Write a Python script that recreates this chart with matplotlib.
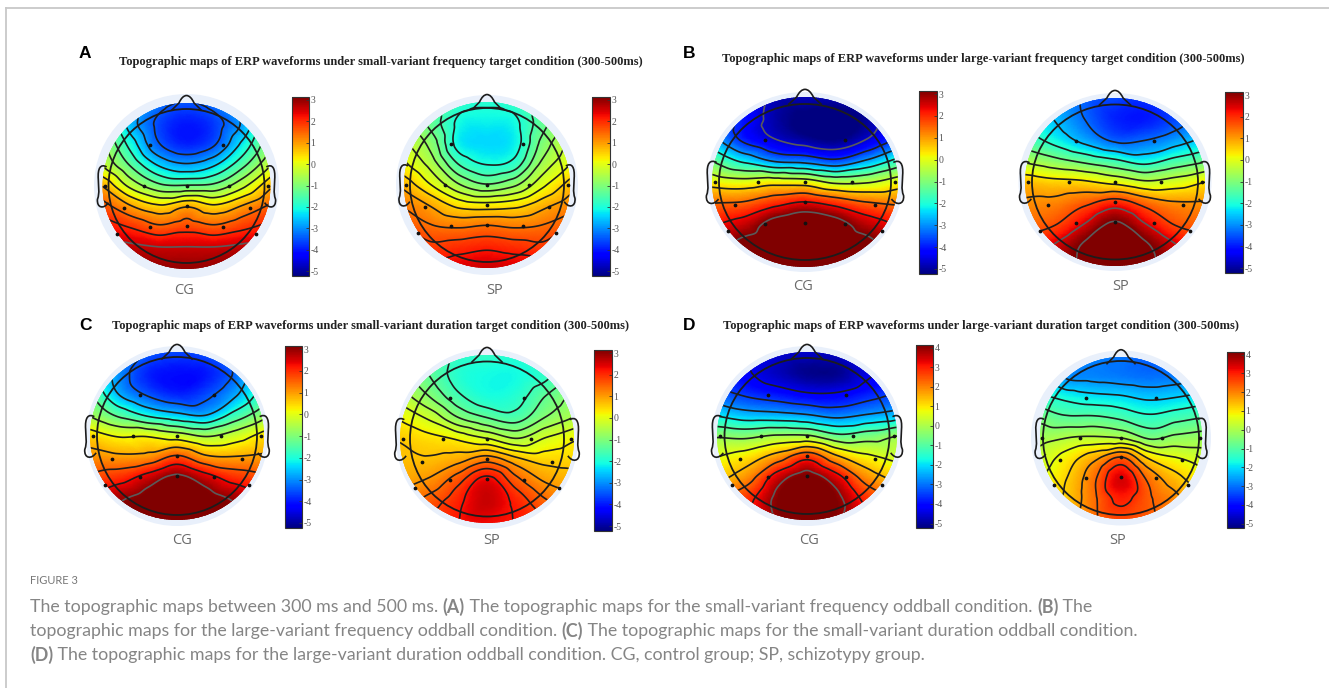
import matplotlib
matplotlib.use("Agg")
import matplotlib.pyplot as plt
import matplotlib.tri as mtri
import numpy as np
from matplotlib.cm import ScalarMappable
from matplotlib.colors import Normalize
from matplotlib.lines import Line2D
from matplotlib.patches import Ellipse, PathPatch
from matplotlib.path import Path

W, H = 1329, 688

# scalp potential, rows go top (front) to bottom (back)
grid_x = [-1, -0.67, -0.33, 0, 0.33, 0.67, 1]
grid_y = [1, 0.75, 0.5, 0.25, 0, -0.25, -0.5, -0.75, -1]

a_cg = [[-1.5, -2.4, -3.2, -3.5, -3.2, -2.4, -1.5],
        [-1.0, -2.6, -3.6, -4.0, -3.7, -2.8, -1.2],
        [-0.6, -2.0, -3.4, -3.9, -3.5, -2.2, -0.8],
        [-0.2, -1.3, -2.4, -2.8, -2.4, -1.4, -0.2],
        [0.9, -0.3, -1.1, -1.2, -1.1, -0.3, 0.8],
        [1.7, 1.0, 0.5, 0.9, 0.5, 1.0, 1.6],
        [2.3, 2.0, 1.6, 1.8, 1.6, 1.9, 2.2],
        [2.8, 2.7, 2.6, 2.6, 2.6, 2.7, 2.8],
        [3.1, 3.1, 3.0, 3.0, 3.0, 3.1, 3.1]]
a_sp = [[-0.9, -1.4, -1.8, -1.9, -1.8, -1.4, -0.9],
        [-0.6, -1.3, -2.1, -2.2, -2.1, -1.3, -0.6],
        [-0.2, -0.9, -2.2, -2.4, -2.2, -1.0, -0.2],
        [0.2, -0.5, -1.6, -2.0, -1.8, -0.6, 0.1],
        [0.8, 0.1, -0.7, -1.1, -0.8, 0.0, 0.7],
        [1.3, 0.9, 0.4, 0.3, 0.4, 0.8, 1.2],
        [1.7, 1.4, 1.3, 1.4, 1.3, 1.4, 1.6],
        [2.2, 1.9, 2.0, 2.1, 2.0, 1.9, 2.2],
        [2.6, 2.5, 2.5, 2.6, 2.5, 2.5, 2.6]]
b_cg = [[-3.5, -4.2, -4.8, -4.8, -4.8, -4.5, -4.0],
        [-3.0, -4.0, -4.9, -5.3, -5.5, -5.0, -4.0],
        [-2.6, -3.9, -4.6, -5.0, -5.2, -4.6, -3.6],
        [-1.2, -2.2, -3.0, -3.2, -3.6, -2.8, -1.8],
        [0.2, 0.0, 0.2, 0.1, -0.5, -0.4, 0.1],
        [1.4, 1.5, 2.0, 2.4, 2.0, 1.5, 1.3],
        [2.2, 2.6, 3.5, 3.9, 3.5, 2.7, 2.2],
        [2.7, 3.4, 3.7, 4.0, 3.7, 3.4, 2.7],
        [2.9, 3.4, 3.7, 3.9, 3.7, 3.4, 2.9]]
b_sp = [[-2.2, -2.9, -3.4, -3.6, -3.8, -3.7, -3.2],
        [-1.9, -2.6, -3.3, -3.9, -4.0, -3.6, -3.0],
        [-1.5, -2.1, -2.8, -3.4, -3.3, -2.9, -2.4],
        [-0.5, -0.9, -1.3, -1.7, -2.1, -1.6, -1.2],
        [0.7, 0.5, 0.4, 0.1, -0.3, -0.1, 0.3],
        [1.1, 1.2, 1.6, 2.1, 1.5, 1.1, 1.1],
        [1.4, 1.7, 2.5, 3.3, 2.5, 1.7, 1.5],
        [2.0, 2.5, 3.3, 3.9, 3.3, 2.5, 2.0],
        [2.4, 2.8, 3.4, 3.6, 3.4, 2.8, 2.4]]
c_cg = [[-2.0, -2.8, -3.4, -3.6, -3.5, -3.0, -2.2],
        [-1.6, -3.0, -3.9, -4.1, -4.0, -3.3, -1.9],
        [-1.2, -2.7, -3.5, -3.9, -3.6, -2.8, -1.6],
        [-0.6, -1.4, -2.1, -2.5, -2.7, -1.7, -0.8],
        [0.5, 0.1, 0.1, -0.2, -0.6, -0.2, 0.4],
        [1.1, 1.0, 1.1, 1.7, 1.0, 0.9, 1.0],
        [1.7, 2.0, 2.6, 3.2, 2.6, 2.0, 1.7],
        [2.4, 2.9, 3.3, 3.7, 3.3, 2.9, 2.4],
        [2.7, 3.1, 3.4, 3.5, 3.4, 3.1, 2.7]]
c_sp = [[-1.0, -1.5, -1.8, -1.8, -1.9, -1.7, -1.2],
        [-0.7, -1.3, -1.9, -2.1, -2.1, -1.8, -1.2],
        [-0.3, -0.9, -1.6, -2.0, -1.9, -1.3, -0.8],
        [0.2, -0.2, -0.9, -1.3, -1.5, -0.9, -0.5],
        [0.6, 0.4, 0.2, -0.1, -0.5, -0.1, 0.2],
        [0.7, 0.7, 0.9, 1.3, 0.8, 0.5, 0.5],
        [0.9, 1.1, 1.7, 2.4, 1.6, 1.0, 0.8],
        [1.2, 1.6, 2.1, 2.6, 2.1, 1.5, 1.2],
        [1.6, 1.9, 2.2, 2.3, 2.2, 1.9, 1.6]]
d_cg = [[-3.8, -4.2, -4.5, -4.6, -4.6, -4.3, -4.0],
        [-3.7, -4.2, -4.7, -5.1, -5.1, -4.4, -4.0],
        [-3.2, -3.6, -3.9, -4.2, -4.2, -3.8, -3.4],
        [-1.9, -2.3, -2.4, -2.6, -2.9, -2.6, -2.3],
        [-0.3, -0.4, -0.1, -0.1, -0.8, -0.6, -0.2],
        [0.6, 1.0, 1.8, 2.8, 1.6, 0.8, 0.4],
        [1.2, 1.9, 3.5, 4.3, 3.4, 1.9, 1.2],
        [2.2, 2.8, 4.1, 4.7, 4.1, 2.8, 2.2],
        [2.8, 3.2, 4.0, 4.3, 4.0, 3.2, 2.8]]
d_sp = [[-2.4, -2.7, -2.9, -3.0, -3.2, -3.2, -3.0],
        [-2.1, -2.7, -2.8, -2.9, -3.0, -2.9, -2.7],
        [-1.4, -1.7, -1.9, -2.0, -2.2, -2.1, -1.9],
        [-0.6, -0.9, -0.9, -1.1, -1.4, -1.2, -1.0],
        [-0.1, 0.1, 0.2, 0.1, -0.5, -0.3, -0.2],
        [0.3, 0.9, 1.6, 2.4, 1.2, 0.7, 0.4],
        [0.6, 1.2, 2.2, 3.4, 2.2, 1.4, 0.8],
        [0.9, 1.3, 2.2, 3.0, 2.4, 1.9, 1.2],
        [1.2, 1.6, 2.2, 2.6, 2.4, 2.0, 1.4]]

group_labels = ["CG", "SP", "CG", "SP", "CG", "SP", "CG", "SP"]
scale_top = [3, 3, 3, 3, 3, 3, 4, 4]
scale_bottom = -5
contour_count = [12, 11, 10, 10, 10, 11, 11, 11]

electrode_x = [-0.43, 0.43, -0.51, 0, 0.51, -0.97, 0.97, -0.75, 0, 0.75, -0.43, 0, 0.43, -0.83, 0.83]
electrode_y = [0.49, 0.49, 0, 0, 0, 0, 0, -0.27, -0.24, -0.27, -0.49, -0.48, -0.49, -0.58, -0.58]

panel_letters = ["A", "B", "C", "D"]
panel_titles = [
    "Topographic maps of ERP waveforms under small-variant frequency target condition (300-500ms)",
    "Topographic maps of ERP waveforms under large-variant frequency target condition (300-500ms)",
    "Topographic maps of ERP waveforms under small-variant duration target condition (300-500ms)",
    "Topographic maps of ERP waveforms under large-variant duration target condition (300-500ms)",
]

# layout in pixels of the picture
maps = [a_cg, a_sp, b_cg, b_sp, c_cg, c_sp, d_cg, d_sp]
head_cx = [186.5, 487, 805, 1115, 177, 487, 807, 1121]
head_cy = [186, 185, 182, 182, 436, 439, 436, 438]
head_rx = [84, 83, 93, 90, 87, 87, 90, 81]
head_ry = [83, 83, 85, 84, 84, 84, 84, 81]
ring_rx = [78, 77, 86, 83, 80, 77, 82.5, 78]
ring_ry = [77, 77, 78, 77.5, 79, 77.5, 78, 77]
halo_rx = [92.5, 91, 98, 96.5, 91, 91, 95, 90]
halo_ry = [92, 90, 90, 89, 90, 90, 90, 87.5]
bar_left = [292, 592, 919, 1225, 285, 594, 916, 1227]
bar_right = [309, 610, 937, 1243, 302, 612, 933, 1244]
bar_top = [97, 97, 91, 92, 346, 350, 345, 352]
bar_bottom = [276, 276, 274, 273, 528, 531, 528, 528]
label_x = [184, 495, 803, 1121, 182, 492, 809, 1118]
label_y = [290, 290, 287, 287, 541, 540, 541, 540]
letter_x = [85, 689, 85, 689]
letter_y = [54, 54, 326, 325]
title_x = [119, 722, 112, 723]
title_y = [62, 59, 326, 326]

caption_lines = [
    [("The topographic maps between 300 ms and 500 ms. ", False), ("(A)", True),
     (" The topographic maps for the small-variant frequency oddball condition. ", False), ("(B)", True),
     (" The", False)],
    [("topographic maps for the large-variant frequency oddball condition. ", False), ("(C)", True),
     (" The topographic maps for the small-variant duration oddball condition.", False)],
    [("(D)", True), (" The topographic maps for the large-variant duration oddball condition. "
                     "CG, control group; SP, schizotypy group.", False)],
]
caption_y = [607, 631, 655]


def px_axes(fig, left, top, right, bottom):
    return fig.add_axes([left / W, 1 - bottom / H, (right - left) / W, (bottom - top) / H])


def head_outline(ax):
    nose = Path([(-0.18, 0.91), (-0.09, 1.0), (-0.05, 1.09), (0, 1.09), (0.05, 1.09), (0.09, 1.0), (0.18, 0.91)],
                [Path.MOVETO, Path.LINETO, Path.CURVE3, Path.CURVE3, Path.CURVE3, Path.CURVE3, Path.LINETO])
    ax.add_patch(PathPatch(nose, fill=False, ec="#1c1c1c", lw=1.2, zorder=6, clip_on=False))
    for side in (-1, 1):
        ear = Path([(side * 0.95, 0.23), (side * 1.02, 0.27), (side * 1.06, 0.22), (side * 1.05, 0.08),
                    (side * 1.05, 0.0), (side * 1.03, -0.08), (side * 1.06, -0.16), (side * 1.07, -0.27),
                    (side * 0.98, -0.28), (side * 0.93, -0.2)],
                   [Path.MOVETO, Path.CURVE4, Path.CURVE4, Path.CURVE4, Path.CURVE4, Path.CURVE4, Path.CURVE4,
                    Path.CURVE4, Path.CURVE4, Path.CURVE4])
        ax.add_patch(PathPatch(ear, fill=False, ec="#1c1c1c", lw=1.2, zorder=6, clip_on=False))


def draw_map(fig, i):
    cx, cy, rx, ry = head_cx[i], head_cy[i], head_rx[i], head_ry[i]
    ax = px_axes(fig, cx - 1.25 * rx, cy - 1.25 * ry, cx + 1.25 * rx, cy + 1.25 * ry)
    ax.set_xlim(-1.25, 1.25)
    ax.set_ylim(-1.25, 1.25)
    ax.axis("off")

    # same extra margin on the scale as on the colour bar
    norm = Normalize(scale_bottom - 0.23, scale_top[i] + 0.14)

    ax.add_patch(Ellipse((0, 0), 2 * halo_rx[i] / rx, 2 * halo_ry[i] / ry, fc="#e9f0fb", ec="none", zorder=1))

    xx, yy = np.meshgrid(grid_x, grid_y)
    z = np.array(maps[i], dtype=float)
    tri = mtri.Triangulation(xx.ravel(), yy.ravel())
    refiner = mtri.UniformTriRefiner(tri)
    interp = mtri.CubicTriInterpolator(tri, z.ravel(), kind="geom")
    tri_fine, z_fine = refiner.refine_field(z.ravel(), triinterpolator=interp, subdiv=4)

    disc = Ellipse((0, 0), 2, 2, fc="none", ec="none", transform=ax.transData)
    ax.add_patch(disc)
    mesh = ax.tripcolor(tri_fine, z_fine, shading="gouraud", cmap="jet", norm=norm, zorder=2)
    mesh.set_clip_path(disc)

    levels = np.linspace(z.min(), z.max(), contour_count[i] + 2)[1:-1]
    colors = ["#5a5a5a" if (lv > scale_top[i] - 0.6 or lv < scale_bottom + 0.7) else "#1e1e1e" for lv in levels]
    cs = ax.tricontour(tri_fine, z_fine, levels=levels, colors=colors, linewidths=1.2, zorder=3)
    cs.set_clip_path(disc)

    ax.add_patch(Ellipse((0, 0), 2 * ring_rx[i] / rx, 2 * ring_ry[i] / ry, fc="none", ec="#1c1c1c", lw=1.3, zorder=5))
    head_outline(ax)
    ax.plot(electrode_x, electrode_y, ls="none", marker="o", ms=1.7, color="#111111", zorder=7, clip_on=False)

    cax = px_axes(fig, bar_left[i], bar_top[i], bar_right[i], bar_bottom[i])
    cb = fig.colorbar(ScalarMappable(norm=norm, cmap="jet"), cax=cax)
    ticks = list(range(scale_bottom, scale_top[i] + 1))
    cb.set_ticks(ticks)
    cb.set_ticklabels([str(t) for t in ticks], family="Liberation Serif", fontsize=7, color="#555555")
    cb.ax.tick_params(direction="in", length=2, width=0.6, color="#333333", pad=1)
    cb.outline.set_edgecolor("#333333")
    cb.outline.set_linewidth(0.8)

    fig.text(label_x[i] / W, 1 - label_y[i] / H, group_labels[i], fontsize=10.5, family="Open Sans",
             color="#6a6a6a", ha="center", va="center")


def draw_caption(fig):
    renderer = fig.canvas.get_renderer()
    fig.text(30 / W, 1 - 581 / H, "FIGURE 3", fontsize=8.0, family="Lato", color="#777777", va="center")
    for pieces, y in zip(caption_lines, caption_y):
        x = 30
        for txt, bold in pieces:
            t = fig.text(x / W, 1 - y / H, txt, fontsize=12.75, family="Lato", color="#858585",
                         va="center", weight="bold" if bold else "normal")
            x += t.get_window_extent(renderer).width


fig = plt.figure(figsize=(W / 100, H / 100), dpi=100, facecolor="white")

for i in range(len(maps)):
    draw_map(fig, i)

for k in range(4):
    fig.text(letter_x[k] / W, 1 - letter_y[k] / H, panel_letters[k], fontsize=12.5, weight="bold",
             family="Liberation Sans", ha="center", va="center", color="black")
    fig.text(title_x[k] / W, 1 - title_y[k] / H, panel_titles[k], fontsize=9.02, weight="bold",
             family="Liberation Serif", ha="left", va="center", color="#222222")

draw_caption(fig)

# page frame on the top and left
fig.add_artist(Line2D([6 / W, 6 / W], [0, 1 - 8 / H], color="#c8c8c8", lw=1.3))
fig.add_artist(Line2D([6 / W, 1], [1 - 8 / H, 1 - 8 / H], color="#c8c8c8", lw=1.3))

fig.savefig("out.png", dpi=100)
